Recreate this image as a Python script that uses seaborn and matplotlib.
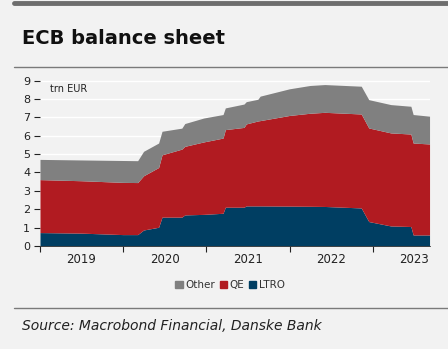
import matplotlib
matplotlib.use("Agg")
import matplotlib.pyplot as plt
import seaborn as sns
import pandas as pd
import numpy as np

# ---- data (trn EUR) ----
dates = ["2019-01-01", "2019-07-01", "2020-01-01", "2020-03-05", "2020-03-31",
         "2020-06-05", "2020-06-20", "2020-09-15", "2020-09-28", "2020-12-20",
         "2021-03-15", "2021-03-25", "2021-06-15", "2021-06-25", "2021-08-15",
         "2021-08-25", "2022-01-01", "2022-04-01", "2022-06-05", "2022-11-12",
         "2022-12-15", "2023-03-22", "2023-06-18", "2023-06-28", "2023-09-08"]
ltro = [0.73, 0.70, 0.62, 0.62, 0.87,
        1.02, 1.57, 1.57, 1.69, 1.72,
        1.78, 2.11, 2.11, 2.18, 2.18,
        2.18, 2.17, 2.16, 2.15, 2.07,
        1.33, 1.09, 1.06, 0.60, 0.60]
ltro_qe = [3.61, 3.55, 3.46, 3.45, 3.82,
           4.27, 4.96, 5.27, 5.42, 5.66,
           5.87, 6.33, 6.45, 6.64, 6.80,
           6.82, 7.10, 7.22, 7.27, 7.18,
           6.42, 6.15, 6.09, 5.60, 5.55]
total = [4.71, 4.68, 4.65, 4.64, 5.15,
         5.60, 6.24, 6.41, 6.66, 6.96,
         7.15, 7.51, 7.72, 7.85, 7.98,
         8.15, 8.55, 8.73, 8.78, 8.69,
         7.96, 7.69, 7.60, 7.15, 7.06]
qe = list(np.array(ltro_qe) - np.array(ltro))
other = list(np.array(total) - np.array(ltro_qe))

series_names = ["LTRO", "QE", "Other"]
colors = {"LTRO": "#003E62", "QE": "#B11B21", "Other": "#808080"}
year_labels = ["2019", "2020", "2021", "2022", "2023"]
yticks = list(range(0, 10))

BG = "#F2F2F2"
sns.set_theme(style="white")
plt.rcParams["font.family"] = ["DejaVu Sans"]

x = pd.to_datetime(dates)

fig = plt.figure(figsize=(4.48, 3.49), dpi=100, facecolor=BG)
ax = fig.add_axes([40 / 448, 1 - 246 / 349, 390 / 448, 171 / 349])
ax.set_facecolor(BG)

for y in yticks:
    ax.axhline(y, color="white", lw=1.0, zorder=0)

ax.stackplot(x, ltro, qe, other,
             colors=[colors[n] for n in series_names], lw=0, zorder=2)

ax.set_ylim(0, 9.3)
ax.set_xlim(pd.Timestamp("2019-01-01"), pd.Timestamp("2023-09-10"))
ax.set_yticks(yticks)
ax.set_yticklabels([str(v) for v in yticks], fontsize=8, color="#222222")
ax.tick_params(axis="y", length=4, width=0.8, color="#222222", pad=3, left=True)

year_starts = [pd.Timestamp(f"{y}-01-01") for y in year_labels]
mid_years = [pd.Timestamp(f"{y}-07-02") for y in year_labels]
ax.set_xticks(year_starts)
ax.set_xticklabels([])
ax.set_xticks(mid_years, minor=True)
ax.set_xticklabels(year_labels, minor=True, fontsize=8.5, color="#222222")
ax.tick_params(axis="x", which="major", length=4, width=0.8, color="#222222", bottom=True)
ax.tick_params(axis="x", which="minor", length=0, pad=5)

for s in ["top", "right", "left"]:
    ax.spines[s].set_visible(False)
ax.spines["bottom"].set_color("#333333")
ax.spines["bottom"].set_linewidth(0.6)

ax.text(0.025, 0.95, "trn EUR", transform=ax.transAxes, fontsize=7,
        color="#222222", va="top", ha="left")

handles = [plt.Rectangle((0, 0), 1, 1, color=colors[n]) for n in ["Other", "QE", "LTRO"]]
fig.legend(handles, ["Other", "QE", "LTRO"], loc="center",
           bbox_to_anchor=(230 / 448, 1 - 285 / 349),
           ncol=3, frameon=False, fontsize=7.5, handlelength=0.7, handleheight=0.7,
           handletextpad=0.25, columnspacing=0.45, labelcolor="#333333",
           borderpad=0, borderaxespad=0)

# decorations
fig.add_artist(plt.Line2D([14 / 448, 1], [1 - 3 / 349, 1 - 3 / 349], color="#6E6E6E", lw=3.5))
fig.add_artist(plt.Line2D([14 / 448, 1], [1 - 67 / 349, 1 - 67 / 349], color="#7A7A7A", lw=1.0))
fig.add_artist(plt.Line2D([14 / 448, 1], [1 - 308 / 349, 1 - 308 / 349], color="#7A7A7A", lw=1.0))
fig.text(22 / 448, 1 - 38 / 349, "ECB balance sheet", fontsize=14, fontweight="bold",
         color="#111111", va="center", ha="left")
fig.text(22 / 448, 1 - 326 / 349, "Source: Macrobond Financial, Danske Bank", fontsize=10,
         style="italic", color="#222222", va="center", ha="left")

fig.savefig("out.png", dpi=100, facecolor=BG)
